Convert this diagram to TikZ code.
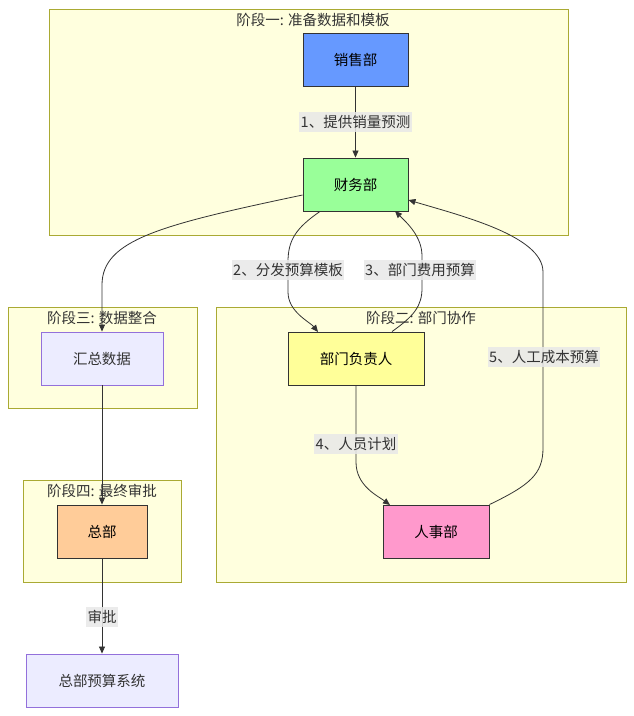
\documentclass[tikz,border=0pt]{standalone}
\usepackage{fontspec}
\setmainfont{Noto Sans CJK SC}
\usetikzlibrary{arrows.meta}
\definecolor{clfill}{HTML}{FFFFDE}
\definecolor{clstroke}{HTML}{AAAA33}
\definecolor{txt}{HTML}{333333}
\definecolor{lblbg}{HTML}{E8E8E8}
\definecolor{cSales}{HTML}{6699FF}
\definecolor{cFin}{HTML}{99FF99}
\definecolor{cDept}{HTML}{FFFF99}
\definecolor{cHR}{HTML}{FF99CC}
\definecolor{cHQ}{HTML}{FFCC99}
\definecolor{cDef}{HTML}{ECECFF}
\definecolor{cDefS}{HTML}{9370DB}
\begin{document}
\begin{tikzpicture}[x=1pt,y=-1pt,
  cluster/.style={draw=clstroke,fill=clfill,line width=0.9pt},
  ctitle/.style={text=txt,font=\fontsize{14.5}{16}\selectfont,inner sep=0pt},
  box/.style={draw=txt,line width=0.9pt,text=black,font=\fontsize{14.5}{16}\selectfont,minimum height=53pt,inner sep=0pt},
  defbox/.style={box,draw=cDefS,fill=cDef,text=txt},
  elabel/.style={fill=lblbg,fill opacity=0.85,text opacity=1,text=txt,font=\fontsize{14.5}{16}\selectfont,inner xsep=1.5pt,inner ysep=3pt},
  flow/.style={draw=txt,line width=0.8pt,-{Triangle[length=7pt,width=6pt]}}]
\useasboundingbox (0,0) rectangle (634,716);
\fill[white] (0,0) rectangle (634,716);
% clusters
\draw[cluster] (49,9) rectangle (568,235);
\node[ctitle] (t1) at (313,20) {阶段一: 准备数据和模板};
\draw[cluster] (8,307) rectangle (197,408);
\node[ctitle] (t3) at (102,318) {阶段三: 数据整合};
\draw[cluster] (216,307) rectangle (626,582);
\node[ctitle] (t2) at (421,318) {阶段二: 部门协作};
\draw[cluster] (23,480) rectangle (181,582);
\node[ctitle] (t4) at (102,491) {阶段四: 最终审批};
% nodes
\node[box,fill=cSales,minimum width=105pt] (sales) at (355.5,59.5) {销售部};
\node[box,fill=cFin,minimum width=105pt] (fin) at (355.5,184.5) {财务部};
\node[defbox,minimum width=122pt] (sum) at (102,358.5) {汇总数据};
\node[box,fill=cDept,minimum width=136pt] (dept) at (356,358.5) {部门负责人};
\node[box,fill=cHR,minimum width=106pt] (hr) at (436,531.5) {人事部};
\node[box,fill=cHQ,minimum width=90pt] (hq) at (102,531.5) {总部};
\node[defbox,minimum width=152pt] (sys) at (102,680.5) {总部预算系统};
% edges
\draw[flow] (sales) -- (fin);
\node[elabel] (l1) at (355.5,122) {1、提供销量预测};
\draw[flow] (fin.west |- 0,195) .. controls (160,225) and (102,240) .. (102,285) -- (sum.north);
\draw[flow] (fin.south -| 320,0) .. controls (296,228) and (288,240) .. (288,262) -- (288,292) .. controls (288,312) and (310,322) .. (318,332);
\node[elabel] (l2) at (288,270) {2、分发预算模板};
\draw[flow] (dept.north -| 392,0) .. controls (414,316) and (422,306) .. (422,288) -- (422,256) .. controls (422,236) and (406,222) .. (395,211);
\node[elabel] (l3) at (420,270) {3、部门费用预算};
\draw[flow] (dept.south) -- (356,462) .. controls (356,486) and (378,496) .. (390,505);
\node[elabel] (l4) at (356,444) {4、人员计划};
\draw[flow] (hr.north east) .. controls (530,485) and (543,474) .. (543,448) -- (543,272) .. controls (543,236) and (462,216) .. (fin.east |- 0,200);
\node[elabel] (l5) at (544,357) {5、人工成本预算};
\draw[flow] (sum) -- (hq);
\draw[flow] (hq) -- (sys);
\node[elabel] (l6) at (102,617) {审批};
\end{tikzpicture}
\end{document}
